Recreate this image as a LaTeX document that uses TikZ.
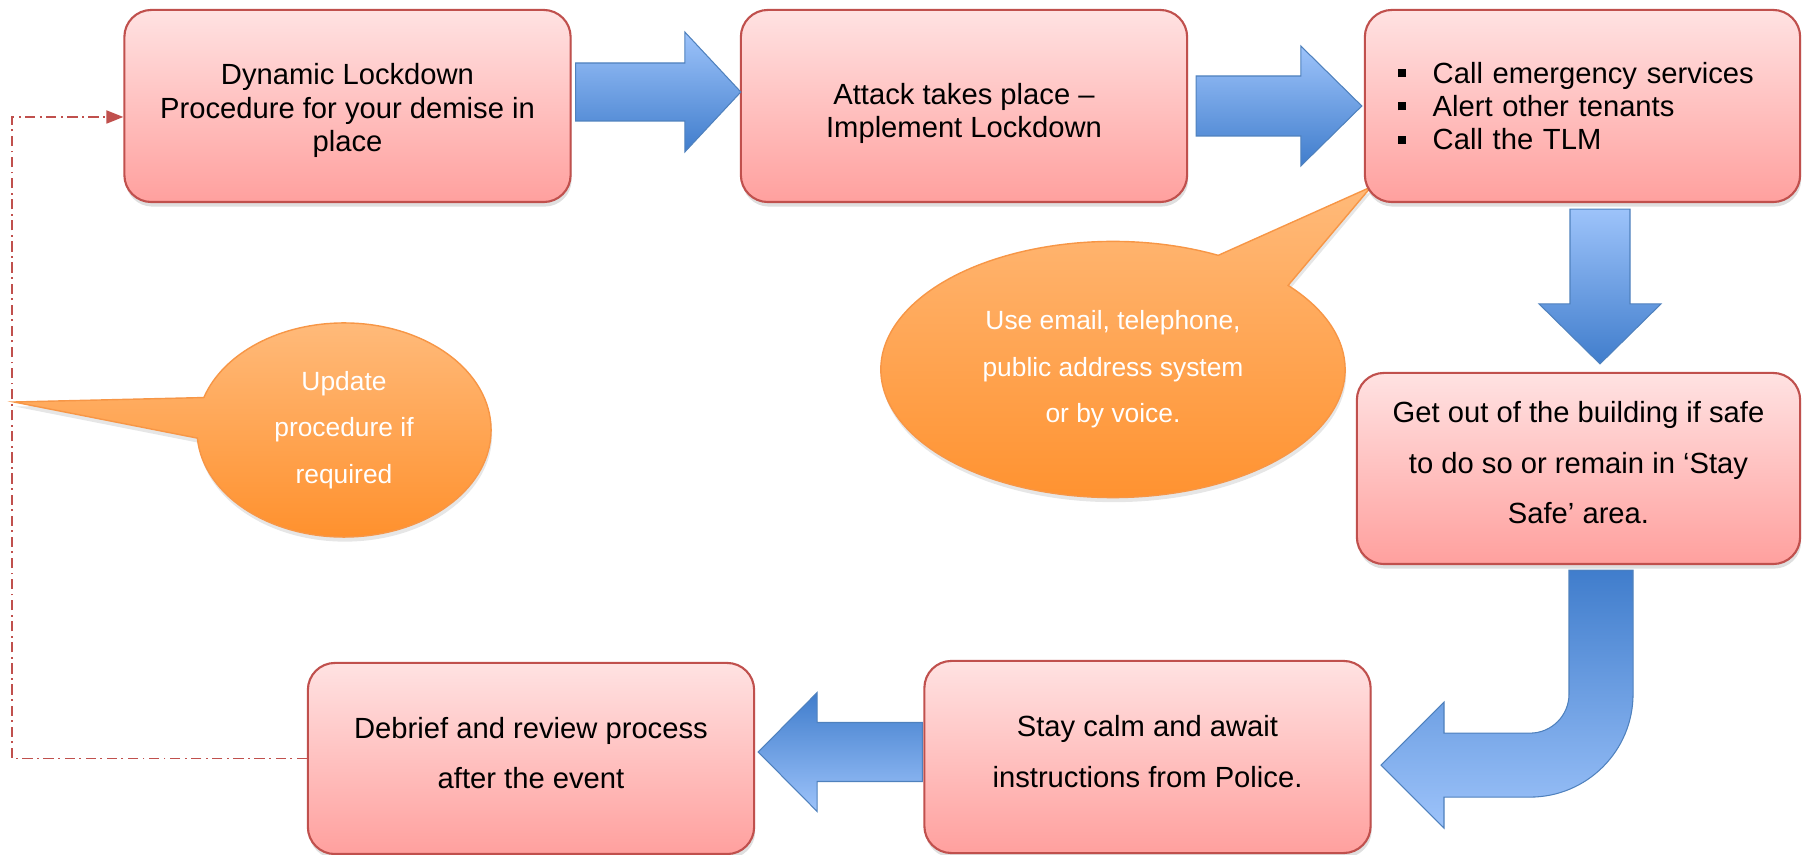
\documentclass[tikz,border=0pt]{standalone}
\usepackage{fontspec}
\setmainfont{Liberation Sans}
\usepackage{xcolor}
\usepackage{tikz}
\usetikzlibrary{arrows.meta,shapes.callouts,shadows,calc,positioning}

\definecolor{boxtop}{RGB}{255,226,226}
\definecolor{boxbot}{RGB}{255,160,158}
\definecolor{boxline}{RGB}{192,80,77}
\definecolor{arrlight}{RGB}{157,195,250}
\definecolor{arrdark}{RGB}{64,125,204}
\definecolor{arrline}{RGB}{79,129,189}
\definecolor{caltop}{RGB}{255,186,122}
\definecolor{calbot}{RGB}{255,144,44}
\definecolor{calline}{RGB}{247,150,70}

\newcommand{\sqbullet}{\rule[1.7pt]{2.3pt}{2.3pt}\hspace{7.6pt}}
% struts that push the lines of a box up or down
\newcommand{\padabove}[1]{\rule{0pt}{#1}}
\newcommand{\padbelow}[1]{\rule[-#1]{0pt}{#1}}

\begin{document}
\begin{tikzpicture}[x=0.01cm, y=-0.01cm,
  stagebox/.style={rectangle, rounded corners=0.27cm, draw=boxline, line width=0.6pt,
    top color=boxtop, bottom color=boxbot, minimum width=4.46cm, minimum height=1.92cm,
    align=center, inner sep=2pt,
    drop shadow={shadow xshift=0.3pt, shadow yshift=-1.3pt, opacity=0.25}},
  tight/.style={font=\fontsize{8.3}{9.5}\selectfont},
  loose/.style={font=\fontsize{8.3}{14.3}\selectfont},
  bubble/.style={ellipse callout, callout pointer arc=22, draw=calline, line width=0.4pt,
    top color=caltop, bottom color=calbot, text=white, align=center, inner sep=0pt,
    font=\fontsize{7.5}{13.2}\selectfont,
    drop shadow={shadow xshift=0.3pt, shadow yshift=-1.3pt, opacity=0.2}},
  rarrow/.style={draw=arrline, line width=0.3pt, top color=arrlight, bottom color=arrdark},
  larrow/.style={draw=arrline, line width=0.3pt, top color=arrdark, bottom color=arrlight},
  loopline/.style={draw=boxline, line width=0.5pt,
    dash pattern=on 2.9pt off 1.3pt on 0.5pt off 1.3pt,
    -{Triangle[length=4.8pt, width=3.7pt]}}
]
  \useasboundingbox (0,0) rectangle (1802,855);

  % callouts
  \node[bubble, minimum width=4.64cm, minimum height=2.56cm,
    callout absolute pointer={(1371,187)}] (channels) at (1113,369.5)
    {Use email, telephone,\\public address system\\or by voice.};
  \node[bubble, minimum width=2.94cm, minimum height=2.14cm,
    callout absolute pointer={(14,402)}] (update) at (344,430)
    {Update\\procedure if\\required};

  % stages
  \node[stagebox, tight] (lock) at (347.5,106)
    {\padabove{8.7pt}Dynamic Lockdown\\Procedure for your demise in\\place};
  \node[stagebox, tight] (attack) at (964,106)
    {\padabove{10.1pt}Attack takes place –\\Implement Lockdown};
  \node[stagebox, tight, minimum width=4.35cm, text width=3.69cm, align=left] (call) at (1582.5,106)
    {\sqbullet Call emergency services\\\sqbullet Alert other tenants\\\sqbullet Call the TLM};
  \node[stagebox, loose, minimum width=4.43cm, minimum height=1.91cm] (getout) at (1578.5,468.5)
    {Get out of the building if safe\\to do so or remain in ‘Stay\\Safe’ area.\padbelow{3.4pt}};
  \node[stagebox, loose] (calm) at (1147.5,757)
    {Stay calm and await\\instructions from Police.\padbelow{3.2pt}};
  \node[stagebox, loose, minimum height=1.91cm] (debrief) at (531,758.5)
    {Debrief and review process\\after the event\padbelow{3.2pt}};

  % block arrows
  \coordinate (a1s) at ($(lock.east)+(4,-14)$);
  \coordinate (a1t) at ($(attack.west)+(1,-14)$);
  \shade[rarrow] ($(a1s)+(0,-29)$) -- ($(a1t)+(-56,-29)$) -- ($(a1t)+(-56,-60)$) -- (a1t)
    -- ($(a1t)+(-56,60)$) -- ($(a1t)+(-56,29)$) -- ($(a1s)+(0,29)$) -- cycle;

  \coordinate (a2s) at ($(attack.east)+(8,0)$);
  \coordinate (a2t) at ($(call.west)+(-2,0)$);
  \shade[rarrow] ($(a2s)+(0,-30)$) -- ($(a2t)+(-61,-30)$) -- ($(a2t)+(-61,-60)$) -- (a2t)
    -- ($(a2t)+(-61,60)$) -- ($(a2t)+(-61,30)$) -- ($(a2s)+(0,30)$) -- cycle;

  \coordinate (a3s) at ($(call.south)+(17.5,6)$);
  \coordinate (a3t) at ($(getout.north)+(21.5,-8)$);
  \shade[rarrow] ($(a3s)+(-30,0)$) -- ($(a3t)+(-30,-60)$) -- ($(a3t)+(-61,-60)$) -- (a3t)
    -- ($(a3t)+(61,-60)$) -- ($(a3t)+(30,-60)$) -- ($(a3s)+(30,0)$) -- cycle;

  \coordinate (a4s) at ($(getout.south)+(22.5,5)$);
  \shade[larrow] ($(a4s)+(-32,0)$) -- ($(a4s)+(-32,124)$)
    arc[start angle=0, end angle=-90, radius=0.39cm]
    -- ($(a4s)+(-157,163)$) -- ($(a4s)+(-157,132)$) -- ($(a4s)+(-220,195)$)
    -- ($(a4s)+(-157,258)$) -- ($(a4s)+(-157,227)$) -- ($(a4s)+(-71,227)$)
    arc[start angle=-90, end angle=0, radius=1.03cm]
    -- ($(a4s)+(32,0)$) -- cycle;

  \coordinate (a5s) at ($(calm.west)+(-1,-5)$);
  \coordinate (a5t) at ($(debrief.east)+(3,-6.5)$);
  \shade[larrow] ($(a5s)+(0,-29.5)$) -- ($(a5t)+(59,-29.5)$) -- ($(a5t)+(59,-59.5)$) -- (a5t)
    -- ($(a5t)+(59,59.5)$) -- ($(a5t)+(59,29.5)$) -- ($(a5s)+(0,29.5)$) -- cycle;

  % feedback loop
  \draw[loopline] (debrief.west) -| (12,117) -- ($(lock.west)+(0,11)$);
\end{tikzpicture}
\end{document}
